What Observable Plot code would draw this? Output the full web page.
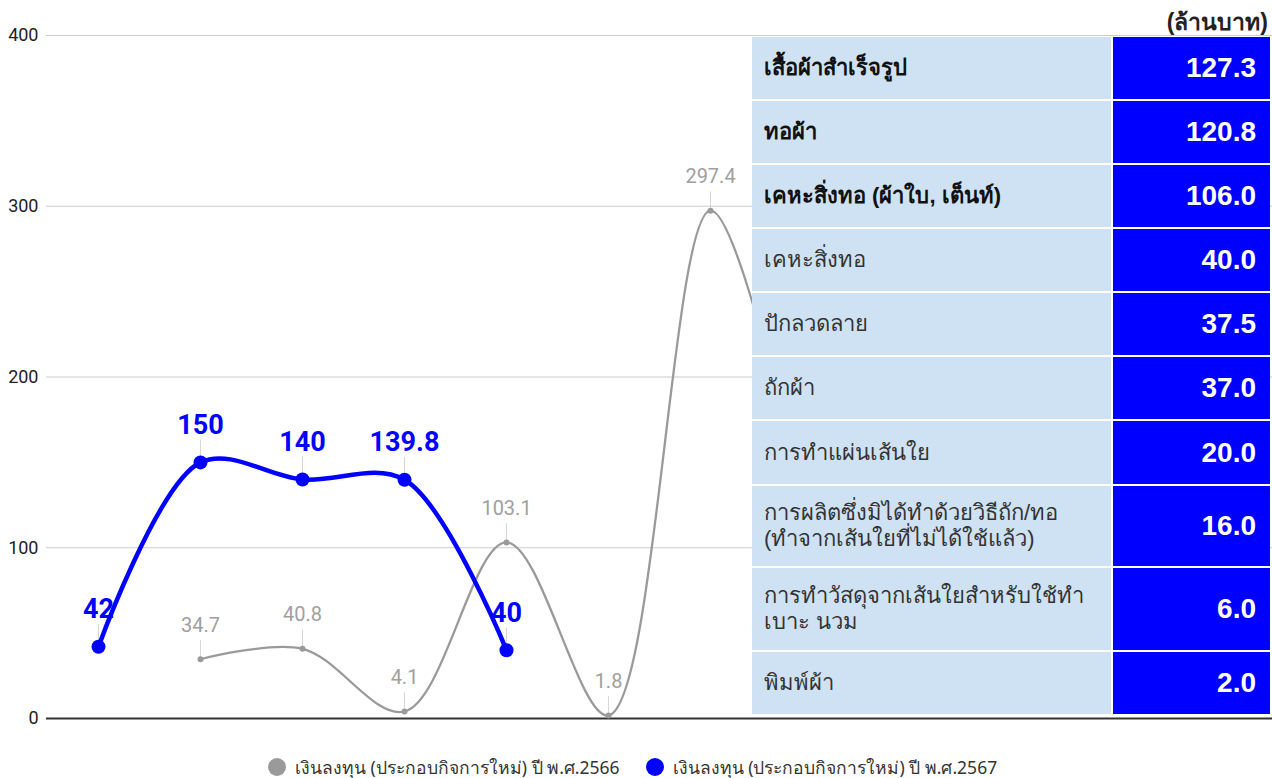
<!DOCTYPE html>
<html>
<head>
<meta charset="utf-8">
<script src="https://cdn.jsdelivr.net/npm/d3@7"></script>
<script src="https://cdn.jsdelivr.net/npm/@observablehq/plot@0.6"></script>
<style>
  html, body { margin: 0; padding: 0; background: #fff; }
  #wrap { position: relative; width: 1272px; height: 778px; overflow: hidden; font-family: Roboto, "Noto Sans", sans-serif; }
  #unit { position: absolute; right: 4px; top: 4px; font: bold 23px "Liberation Sans", "Noto Sans", sans-serif; color: #222; }
  #tbl { position: absolute; left: 752px; top: 37px; width: 518px; display: grid;
         grid-template-columns: 359px 157px; column-gap: 2px; row-gap: 2px; background: #fff; }
  #tbl .c1 { background: #cfe2f3; color: #333; font: 22px "Liberation Sans", "Noto Sans", sans-serif;
             display: flex; align-items: center; padding-left: 12px; line-height: 26px; white-space: pre-line; }
  #tbl .c1.b { font-weight: bold; color: #111; }
  #tbl .c2 { background: #0000ff; color: #fff; font: bold 28px "Liberation Sans", Arial, sans-serif;
             display: flex; align-items: center; justify-content: flex-end; padding-right: 14px; }
  #legend { position: absolute; top: 758px; left: 268px; height: 18px; display: flex; align-items: center; font: 17.5px "Noto Sans", Roboto, sans-serif; line-height: 18px; color: #333; }
  #legend .sw { width: 18px; height: 18px; border-radius: 50%; display: inline-block; margin-right: 9px; flex: none; }
  #legend .it { display: flex; align-items: center; margin-right: 26px; height: 18px; }
</style>
</head>
<body>
<div id="wrap"></div>
<script>
// ---- data ----
const periods = ["ม.ค.","ก.พ.","มี.ค.","เม.ย.","พ.ค.","มิ.ย.","ก.ค.","ส.ค.","ก.ย.","ต.ค.","พ.ย.","ธ.ค."];
const values2566 = [null, 34.7, 40.8, 4.1, 103.1, 1.8, 297.4, 100];   // last point hidden behind table (estimated)
const labels2566 = [null, "34.7", "40.8", "4.1", "103.1", "1.8", "297.4", null];
const values2567 = [42, 150, 140, 139.8, 40];
const labels2567 = ["42", "150", "140", "139.8", "40"];
const seriesNames = ["เงินลงทุน (ประกอบกิจการใหม่) ปี พ.ศ.2566", "เงินลงทุน (ประกอบกิจการใหม่) ปี พ.ศ.2567"];
const yTicks = [0, 100, 200, 300, 400];
const tableCategories = ["เสื้อผ้าสำเร็จรูป","ทอผ้า","เคหะสิ่งทอ (ผ้าใบ, เต็นท์)","เคหะสิ่งทอ","ปักลวดลาย","ถักผ้า","การทำแผ่นเส้นใย","การผลิตซึ่งมิได้ทำด้วยวิธีถัก/ทอ\n(ทำจากเส้นใยที่ไม่ได้ใช้แล้ว)","การทำวัสดุจากเส้นใยสำหรับใช้ทำ\nเบาะ นวม","พิมพ์ผ้า"];
const tableValues = [127.3, 120.8, 106.0, 40.0, 37.5, 37.0, 20.0, 16.0, 6.0, 2.0];
const tableBold = [true, true, true, false, false, false, false, false, false, false];
const unitLabel = "(ล้านบาท)";

// ---- build ----
const s66 = values2566.map((v, i) => ({x: periods[i], v, label: labels2566[i]})).filter(d => d.v != null);
const s66lab = s66.filter(d => d.label);
const s67 = values2567.map((v, i) => ({x: periods[i], v, label: labels2567[i]}));
const gray = "#9a9a9a", blue = "#0000ff";

const chart = Plot.plot({
  width: 1272,
  height: 740,
  marginLeft: 46,
  marginRight: 0,
  marginTop: 35,
  marginBottom: 22,
  style: {fontFamily: "Roboto, sans-serif", fontSize: "16px", color: "#222", background: "transparent"},
  x: {type: "point", domain: periods, padding: 0.5, axis: null},
  y: {domain: [0, 400], axis: null},
  marks: [
    Plot.text(yTicks, {y: d => d, text: d => String(d), frameAnchor: "left", textAnchor: "end", dx: -8, fontSize: 18, fill: "#222"}),
    Plot.ruleY(yTicks.filter(t => t > 0), {stroke: "#cccccc", strokeWidth: 1.2}),
    Plot.ruleY([0], {stroke: "#333", strokeWidth: 2}),
    // gray series
    Plot.ruleX(s66lab, {x: "x", y1: "v", y2: d => d.v + 11, stroke: "#d6d6d6", strokeWidth: 1}),
    Plot.line(s66, {x: "x", y: "v", curve: "catmull-rom", stroke: gray, strokeWidth: 2.3}),
    Plot.dot(s66lab, {x: "x", y: "v", r: 3, fill: gray}),
    Plot.text(s66lab, {x: "x", y: "v", text: "label", dy: -34, fill: "#a0a0a0", fontSize: 20}),
    // blue series
    Plot.ruleX(s67, {x: "x", y1: "v", y2: d => d.v + 13, stroke: "#d6d6d6", strokeWidth: 1}),
    Plot.line(s67, {x: "x", y: "v", curve: "catmull-rom", stroke: blue, strokeWidth: 4.5}),
    Plot.dot(s67, {x: "x", y: "v", r: 7, fill: blue}),
    Plot.text(s67, {x: "x", y: "v", text: "label", dy: -37, fill: blue, fontSize: 27, fontWeight: "bold"})
  ]
});

const wrap = document.getElementById("wrap");
chart.style.position = "absolute";
chart.style.left = "0px";
chart.style.top = "0px";
wrap.appendChild(chart);

// unit label
const unit = document.createElement("div");
unit.id = "unit";
unit.textContent = unitLabel;
wrap.appendChild(unit);

// overlay table
const rowHeights = [62, 62, 62, 62, 62, 62, 63, 80, 82, 62];
const tbl = document.createElement("div");
tbl.id = "tbl";
tbl.style.gridTemplateRows = rowHeights.map(h => h + "px").join(" ");
tableCategories.forEach((c, i) => {
  const a = document.createElement("div");
  a.className = "c1" + (tableBold[i] ? " b" : "");
  a.textContent = c;
  const b = document.createElement("div");
  b.className = "c2";
  b.textContent = tableValues[i].toFixed(1);
  tbl.appendChild(a); tbl.appendChild(b);
});
wrap.appendChild(tbl);

// legend
const lg = document.createElement("div");
lg.id = "legend";
[[gray, seriesNames[0]], [blue, seriesNames[1]]].forEach(([c, n]) => {
  const it = document.createElement("div");
  it.className = "it";
  const sw = document.createElement("span");
  sw.className = "sw"; sw.style.background = c;
  it.appendChild(sw);
  it.appendChild(document.createTextNode(n));
  lg.appendChild(it);
});
wrap.appendChild(lg);
</script>
</body>
</html>
